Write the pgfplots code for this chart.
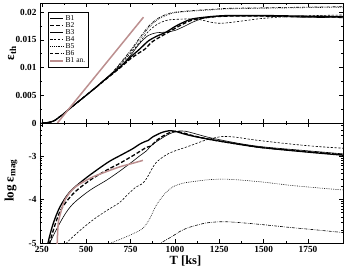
\documentclass[border=0pt]{standalone}
\usepackage{fontspec}
\setmainfont{Liberation Serif}
\usepackage{pgfplots}
\pgfplotsset{compat=1.18}
\definecolor{anbrown}{RGB}{188,143,143}
\begin{document}
\begin{tikzpicture}
\useasboundingbox (-40pt,-23pt) rectangle (305pt,243pt);
\pgfplotsset{
  every axis/.append style={
    scale only axis, width=303pt, height=120pt,
    xmin=240, xmax=1947,
    axis line style={line width=0.8pt},
    tick style={line width=0.5pt, black},
    major tick length=4pt, minor tick length=2pt,
    tick align=inside,
    xtick={250,500,750,1000,1250,1500,1750},
    minor x tick num=1,
    tick label style={font=\fontsize{9.3}{10}\selectfont\bfseries},
    /pgf/number format/assume math mode=true,
    label style={font=\fontsize{13}{14}\selectfont\bfseries},
    legend image code/.code={\draw[##1] (0pt,0pt) -- (13pt,0pt);},
  },
  B1/.style={black, line width=1.3pt, smooth, tension=0.5},
  B2/.style={black, line width=1.3pt, dash pattern=on 4pt off 2pt, smooth, tension=0.5},
  B3/.style={black, line width=0.6pt, smooth, tension=0.5},
  B4/.style={black, line width=0.6pt, dash pattern=on 2.2pt off 1.6pt, smooth, tension=0.5},
  B5/.style={black, line width=0.6pt, dash pattern=on 0.7pt off 1.1pt, smooth, tension=0.5},
  B6/.style={black, line width=0.6pt, dash pattern=on 3pt off 1.2pt on 0.7pt off 1.2pt, smooth, tension=0.5},
  BA/.style={anbrown, line width=1.5pt, smooth, tension=0.5},
}
% ---------- upper panel ----------
\begin{axis}[
  at={(0pt,120pt)},
  ymin=0, ymax=0.02166,
  ytick={0,0.005,0.01,0.015,0.02},
  yticklabels={0,0.005,0.01,0.015,0.02},
  minor y tick num=1,
  scaled y ticks=false,
  xticklabels={},
  ylabel={ε\textsubscript{th}},
  ylabel style={at={(axis description cs:-0.092,0.58)}, anchor=center},
  legend style={at={(0.026,0.925)}, anchor=north west, draw=black, line width=0.5pt,
    font=\fontsize{7.5}{7.5}\selectfont, inner sep=1.5pt, row sep=-2.4pt,
    nodes={inner sep=1.5pt}},
  legend cell align=left,
]
\addplot[B1] coordinates {(250,0) (270,0.00002) (300,0.00018) (325,0.0005) (350,0.0011) (375,0.0017) (400,0.0024) (450,0.0037) (500,0.0050) (550,0.0063) (600,0.0077) (650,0.0090) (700,0.0104) (750,0.0119) (800,0.0133) (850,0.0148) (900,0.0157) (950,0.0164) (1000,0.0174) (1050,0.0182) (1100,0.0188) (1200,0.0192) (1300,0.0194) (1500,0.0194) (1700,0.0193) (1947,0.0192)};
\addlegendentry{B1}
\addplot[B2] coordinates {(250,0) (270,0.00002) (300,0.00018) (325,0.0005) (350,0.0011) (375,0.0017) (400,0.0024) (450,0.0037) (500,0.0050) (550,0.0063) (600,0.0076) (650,0.0089) (700,0.0102) (750,0.0116) (800,0.0127) (830,0.0133) (870,0.0146) (920,0.0156) (970,0.0165) (1030,0.0176) (1100,0.0186) (1200,0.0191) (1300,0.0193) (1500,0.0193) (1700,0.0192) (1947,0.0191)};
\addlegendentry{B2}
\addplot[B3] coordinates {(250,0) (270,0.00002) (300,0.00018) (325,0.0005) (350,0.0011) (375,0.0017) (400,0.0024) (450,0.0037) (500,0.0050) (550,0.0063) (600,0.0076) (650,0.0090) (700,0.0104) (750,0.0122) (800,0.0143) (850,0.0158) (900,0.0163) (950,0.0164) (1000,0.0167) (1050,0.0174) (1100,0.0182) (1150,0.0188) (1200,0.0191) (1300,0.0193) (1500,0.0193) (1700,0.0191) (1947,0.0190)};
\addlegendentry{B3}
\addplot[B4] coordinates {(250,0) (270,0.00002) (300,0.00018) (325,0.0005) (350,0.0011) (375,0.0017) (400,0.0024) (450,0.0037) (500,0.0050) (550,0.0063) (600,0.0077) (650,0.0091) (700,0.0108) (750,0.0126) (800,0.0145) (850,0.0165) (900,0.0178) (950,0.0185) (1000,0.0187) (1100,0.0188) (1150,0.0186) (1200,0.0182) (1250,0.0180) (1300,0.0181) (1400,0.0185) (1500,0.0189) (1700,0.0193) (1947,0.0195)};
\addlegendentry{B4}
\addplot[B5] coordinates {(250,0) (270,0.00002) (300,0.00018) (325,0.0005) (350,0.0011) (375,0.0017) (400,0.0024) (450,0.0037) (500,0.0050) (550,0.0063) (600,0.0077) (650,0.0092) (700,0.0110) (750,0.0129) (800,0.0150) (850,0.0171) (900,0.0186) (950,0.0194) (1000,0.0199) (1100,0.0202) (1200,0.0204) (1300,0.0206) (1500,0.0207) (1700,0.0208) (1947,0.0209)};
\addlegendentry{B5}
\addplot[B6] coordinates {(250,0) (270,0.00002) (300,0.00018) (325,0.0005) (350,0.0011) (375,0.0017) (400,0.0024) (450,0.0037) (500,0.0050) (550,0.0063) (600,0.0077) (650,0.0092) (700,0.0111) (750,0.0131) (800,0.0153) (850,0.0174) (900,0.0188) (950,0.0196) (1000,0.0200) (1100,0.0203) (1200,0.0205) (1300,0.0207) (1500,0.0208) (1700,0.0209) (1947,0.0210)};
\addlegendentry{B6}
\addplot[anbrown, line width=1.5pt] coordinates {(338,0) (823,0.0191)};
\addlegendentry{B1 an.}
\end{axis}
% ---------- lower panel ----------
\begin{axis}[
  at={(0pt,0pt)},
  ymin=-5, ymax=-2.24,
  ytick={-5,-4,-3},
  yticklabels={-5,-4,-3},
  minor ytick={-4.699,-4.523,-4.398,-4.301,-4.222,-4.155,-4.097,-4.046,-3.699,-3.523,-3.398,-3.301,-3.222,-3.155,-3.097,-3.046,-2.699,-2.523,-2.398,-2.301},
  xticklabels={250,500,750,1000,1250,1500,1750},
  xlabel={T [ks]},
  xlabel style={at={(axis description cs:0.48,0)}, anchor=center, yshift=-18pt, font=\fontsize{12.5}{13}\selectfont\bfseries},
  ylabel={log ε\textsubscript{mag}},
  ylabel style={at={(axis description cs:-0.096,0.52)}, anchor=center},
]
\addplot[B1] coordinates {(275,-5.3) (285,-5) (313,-4.57) (351,-4.18) (407,-3.83) (482,-3.56) (557,-3.33) (632,-3.12) (700,-2.97) (763,-2.83) (800,-2.73) (830,-2.67) (850,-2.64) (875,-2.56) (925,-2.46) (965,-2.42) (1000,-2.43) (1050,-2.49) (1100,-2.54) (1200,-2.62) (1362,-2.73) (1500,-2.81) (1750,-2.91) (1947,-2.98)};
\addplot[B2] coordinates {(284,-5.3) (294,-5) (351,-4.29) (426,-3.87) (520,-3.56) (613,-3.33) (688,-3.17) (760,-3.0) (800,-2.9) (840,-2.8) (865,-2.77) (900,-2.63) (950,-2.5) (985,-2.44) (1010,-2.43) (1050,-2.47) (1100,-2.53) (1200,-2.62) (1362,-2.73) (1500,-2.81) (1750,-2.9) (1947,-2.97)};
\addplot[B3] coordinates {(288,-5.3) (296,-5) (370,-4.41) (426,-4.10) (520,-3.79) (613,-3.56) (688,-3.35) (763,-3.12) (800,-3.0) (840,-2.88) (875,-2.73) (950,-2.53) (988,-2.46) (1030,-2.42) (1060,-2.43) (1100,-2.47) (1200,-2.58) (1362,-2.71) (1500,-2.79) (1750,-2.88) (1947,-2.95)};
\addplot[B4] coordinates {(379,-5.1) (389,-5) (463,-4.72) (538,-4.47) (613,-4.26) (688,-4.07) (740,-3.86) (782,-3.71) (815,-3.64) (840,-3.52) (870,-3.3) (894,-3.15) (940,-3.0) (988,-2.9) (1081,-2.77) (1175,-2.63) (1250,-2.56) (1290,-2.55) (1350,-2.57) (1450,-2.63) (1643,-2.72) (1800,-2.78) (1947,-2.82)};
\addplot[B5] coordinates {(625,-5.05) (640,-5) (700,-4.9) (763,-4.79) (820,-4.66) (857,-4.45) (894,-4.14) (940,-3.88) (988,-3.71) (1040,-3.63) (1081,-3.6) (1175,-3.55) (1269,-3.53) (1362,-3.55) (1500,-3.6) (1643,-3.67) (1800,-3.73) (1947,-3.78)};
\addplot[B6] coordinates {(910,-5.08) (922,-5) (950,-4.93) (988,-4.84) (1030,-4.73) (1081,-4.64) (1175,-4.54) (1269,-4.51) (1362,-4.53) (1500,-4.58) (1643,-4.64) (1800,-4.7) (1947,-4.76)};
\addplot[BA] coordinates {(334,-5.6) (337,-5.0) (342,-4.57) (350,-4.4) (361,-4.24) (375,-4.06) (389,-3.95) (410,-3.83) (426,-3.76) (450,-3.68) (482,-3.6) (538,-3.48) (613,-3.36) (688,-3.25) (750,-3.18) (820,-3.1)};
\end{axis}
\end{tikzpicture}
\end{document}
